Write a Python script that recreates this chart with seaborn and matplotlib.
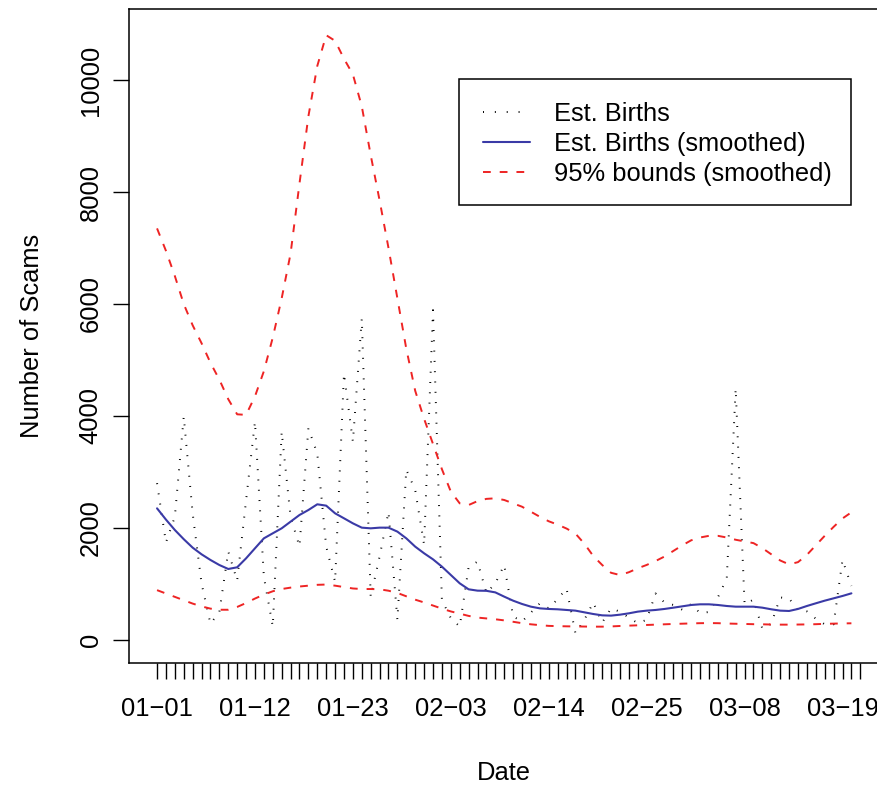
import numpy as np
import pandas as pd
import matplotlib
matplotlib.use("Agg")
import matplotlib.pyplot as plt
import seaborn as sns
from matplotlib.lines import Line2D
from matplotlib.patches import Rectangle

# daily estimates, 01-01 .. 03-20
births = [2800, 1740, 2200, 3990, 2260, 1010, 290, 500, 1580, 1060,
          2490, 3900, 1130, 240, 3720, 2200, 1670, 3780, 3330, 1670,
          1040, 4760, 3540, 5740, 770, 1490, 2290, 360, 3040, 2680,
          1700, 5890, 710, 390, 240, 1300, 1400, 840, 1010, 1340,
          420, 330, 490, 655, 565, 730, 920, 120, 360, 670,
          310, 565, 505, 400, 300, 360, 830, 670, 625, 540,
          640, 480, 500, 760, 1100, 4490, 640, 720, 200, 290,
          760, 740, 540, 510, 380, 280, 280, 1430, 965]

smoothed = [2351, 2150, 1964, 1800, 1649, 1530, 1429, 1339, 1268, 1298,
            1458, 1637, 1815, 1905, 1994, 2113, 2232, 2321, 2423, 2399,
            2262, 2173, 2083, 2006, 1994, 2006, 2006, 1935, 1815, 1667,
            1548, 1440, 1310, 1161, 1012, 905, 881, 878, 850, 774,
            702, 643, 595, 565, 554, 548, 536, 524, 494, 464,
            440, 435, 452, 476, 506, 524, 536, 554, 577, 601,
            625, 637, 637, 625, 607, 595, 595, 595, 577, 548,
            524, 518, 554, 607, 655, 702, 744, 786, 833]

upper = [7350, 6950, 6500, 6000, 5620, 5300, 4950, 4650, 4300, 4030,
         4020, 4350, 4800, 5400, 6100, 6900, 8150, 9350, 10250, 10800,
         10700, 10380, 10100, 9530, 8660, 7850, 7000, 6100, 5200, 4450,
         3950, 3500, 3050, 2650, 2440, 2410, 2480, 2520, 2530, 2500,
         2440, 2380, 2290, 2200, 2120, 2060, 1990, 1900, 1720, 1500,
         1340, 1200, 1160, 1210, 1280, 1340, 1410, 1490, 1590, 1690,
         1780, 1830, 1860, 1860, 1830, 1790, 1760, 1730, 1640, 1530,
         1420, 1350, 1390, 1520, 1690, 1860, 2020, 2170, 2280]

lower = [890, 830, 770, 710, 650, 600, 560, 540, 540, 590,
         660, 740, 810, 870, 910, 935, 955, 970, 985, 990,
         970, 945, 920, 910, 910, 905, 880, 840, 780, 720,
         670, 615, 560, 510, 470, 430, 400, 385, 370, 350,
         325, 300, 280, 265, 252, 247, 244, 242, 240, 238,
         238, 242, 250, 256, 262, 268, 274, 280, 286, 291,
         296, 300, 302, 300, 294, 290, 286, 282, 280, 276,
         274, 274, 276, 278, 282, 288, 292, 296, 298]

date_labels = ["01−01", "01−12", "01−23", "02−03", "02−14", "02−25", "03−08", "03−19"]
n_ticks = 80
label_every = 11

days = np.arange(len(births))
df = pd.DataFrame({"day": days, "births": births, "smoothed": smoothed,
                   "upper": upper, "lower": lower})

sns.set_theme(style="white")
plt.rcParams["font.family"] = ["Liberation Sans", "DejaVu Sans"]
plt.rcParams["text.color"] = "black"
plt.rcParams["axes.labelcolor"] = "black"
plt.rcParams["xtick.color"] = "black"
plt.rcParams["ytick.color"] = "black"
fs = 18.4

fig = plt.figure(figsize=(8.77, 7.87), dpi=100)
ax = fig.add_axes([129/877, 124/787, 750/877, 654/787])

dot = (0, (0.5, 4.8))
dash = (0, (4, 4.6))
blue = "#3a3aa6"
red = "#ee2424"

sns.lineplot(data=df, x="day", y="births", ax=ax, color="black", lw=1.4, linestyle=dot)
sns.lineplot(data=df, x="day", y="smoothed", ax=ax, color=blue, lw=1.5)
sns.lineplot(data=df, x="day", y="upper", ax=ax, color=red, lw=1.4, linestyle=dash)
sns.lineplot(data=df, x="day", y="lower", ax=ax, color=red, lw=1.4, linestyle=dash)

ax.set_xlim(-3.15, 81.1)
ax.set_ylim(-411, 11268)

tick_labels = [""] * n_ticks
for i, lab in enumerate(date_labels):
    tick_labels[i * label_every] = lab
ax.set_xticks(range(n_ticks))
ax.set_xticklabels(tick_labels, fontsize=fs)
ax.set_yticks([0, 2000, 4000, 6000, 8000, 10000])
ax.set_yticklabels(["0", "2000", "4000", "6000", "8000", "10000"], fontsize=fs,
                   rotation=90, va="center")

ax.tick_params(axis="both", direction="out", length=11.5, width=1.0, color="black",
               labelcolor="black", bottom=True, left=True)
ax.tick_params(axis="x", pad=13)
ax.tick_params(axis="y", pad=7.5)

for s in ax.spines.values():
    s.set_color("black")
    s.set_linewidth(1.1)

ax.set_xlabel("Date", fontsize=fs, color="black")
ax.set_ylabel("Number of Scams", fontsize=fs, color="black")
ax.xaxis.set_label_coords(0.5, -0.168)
ax.xaxis.label.set_va("center")
ax.yaxis.set_label_coords(-97/750, 0.5)
ax.yaxis.label.set_va("center")

# legend frame
fig.patches.append(Rectangle((459/877, 1 - 205/787), 392/877, 126/787,
                             transform=fig.transFigure, fill=False,
                             edgecolor="black", lw=1.1, zorder=5))
handles = [Line2D([], [], color="black", lw=1.4, linestyle=(0, (0.5, 5.6))),
           Line2D([], [], color=blue, lw=1.5),
           Line2D([], [], color=red, lw=1.4, linestyle=dash)]
names = ["Est. Births", "Est. Births (smoothed)", "95% bounds (smoothed)"]
leg = ax.legend(handles, names, loc="upper left", bbox_to_anchor=(483/877, 1 - 102/787),
                bbox_transform=fig.transFigure, frameon=False, fontsize=fs,
                borderpad=0, borderaxespad=0, handlelength=1.85, handletextpad=0.94,
                labelspacing=0.24)
for t in leg.get_texts():
    t.set_color("black")

fig.savefig("out.png", dpi=100)
